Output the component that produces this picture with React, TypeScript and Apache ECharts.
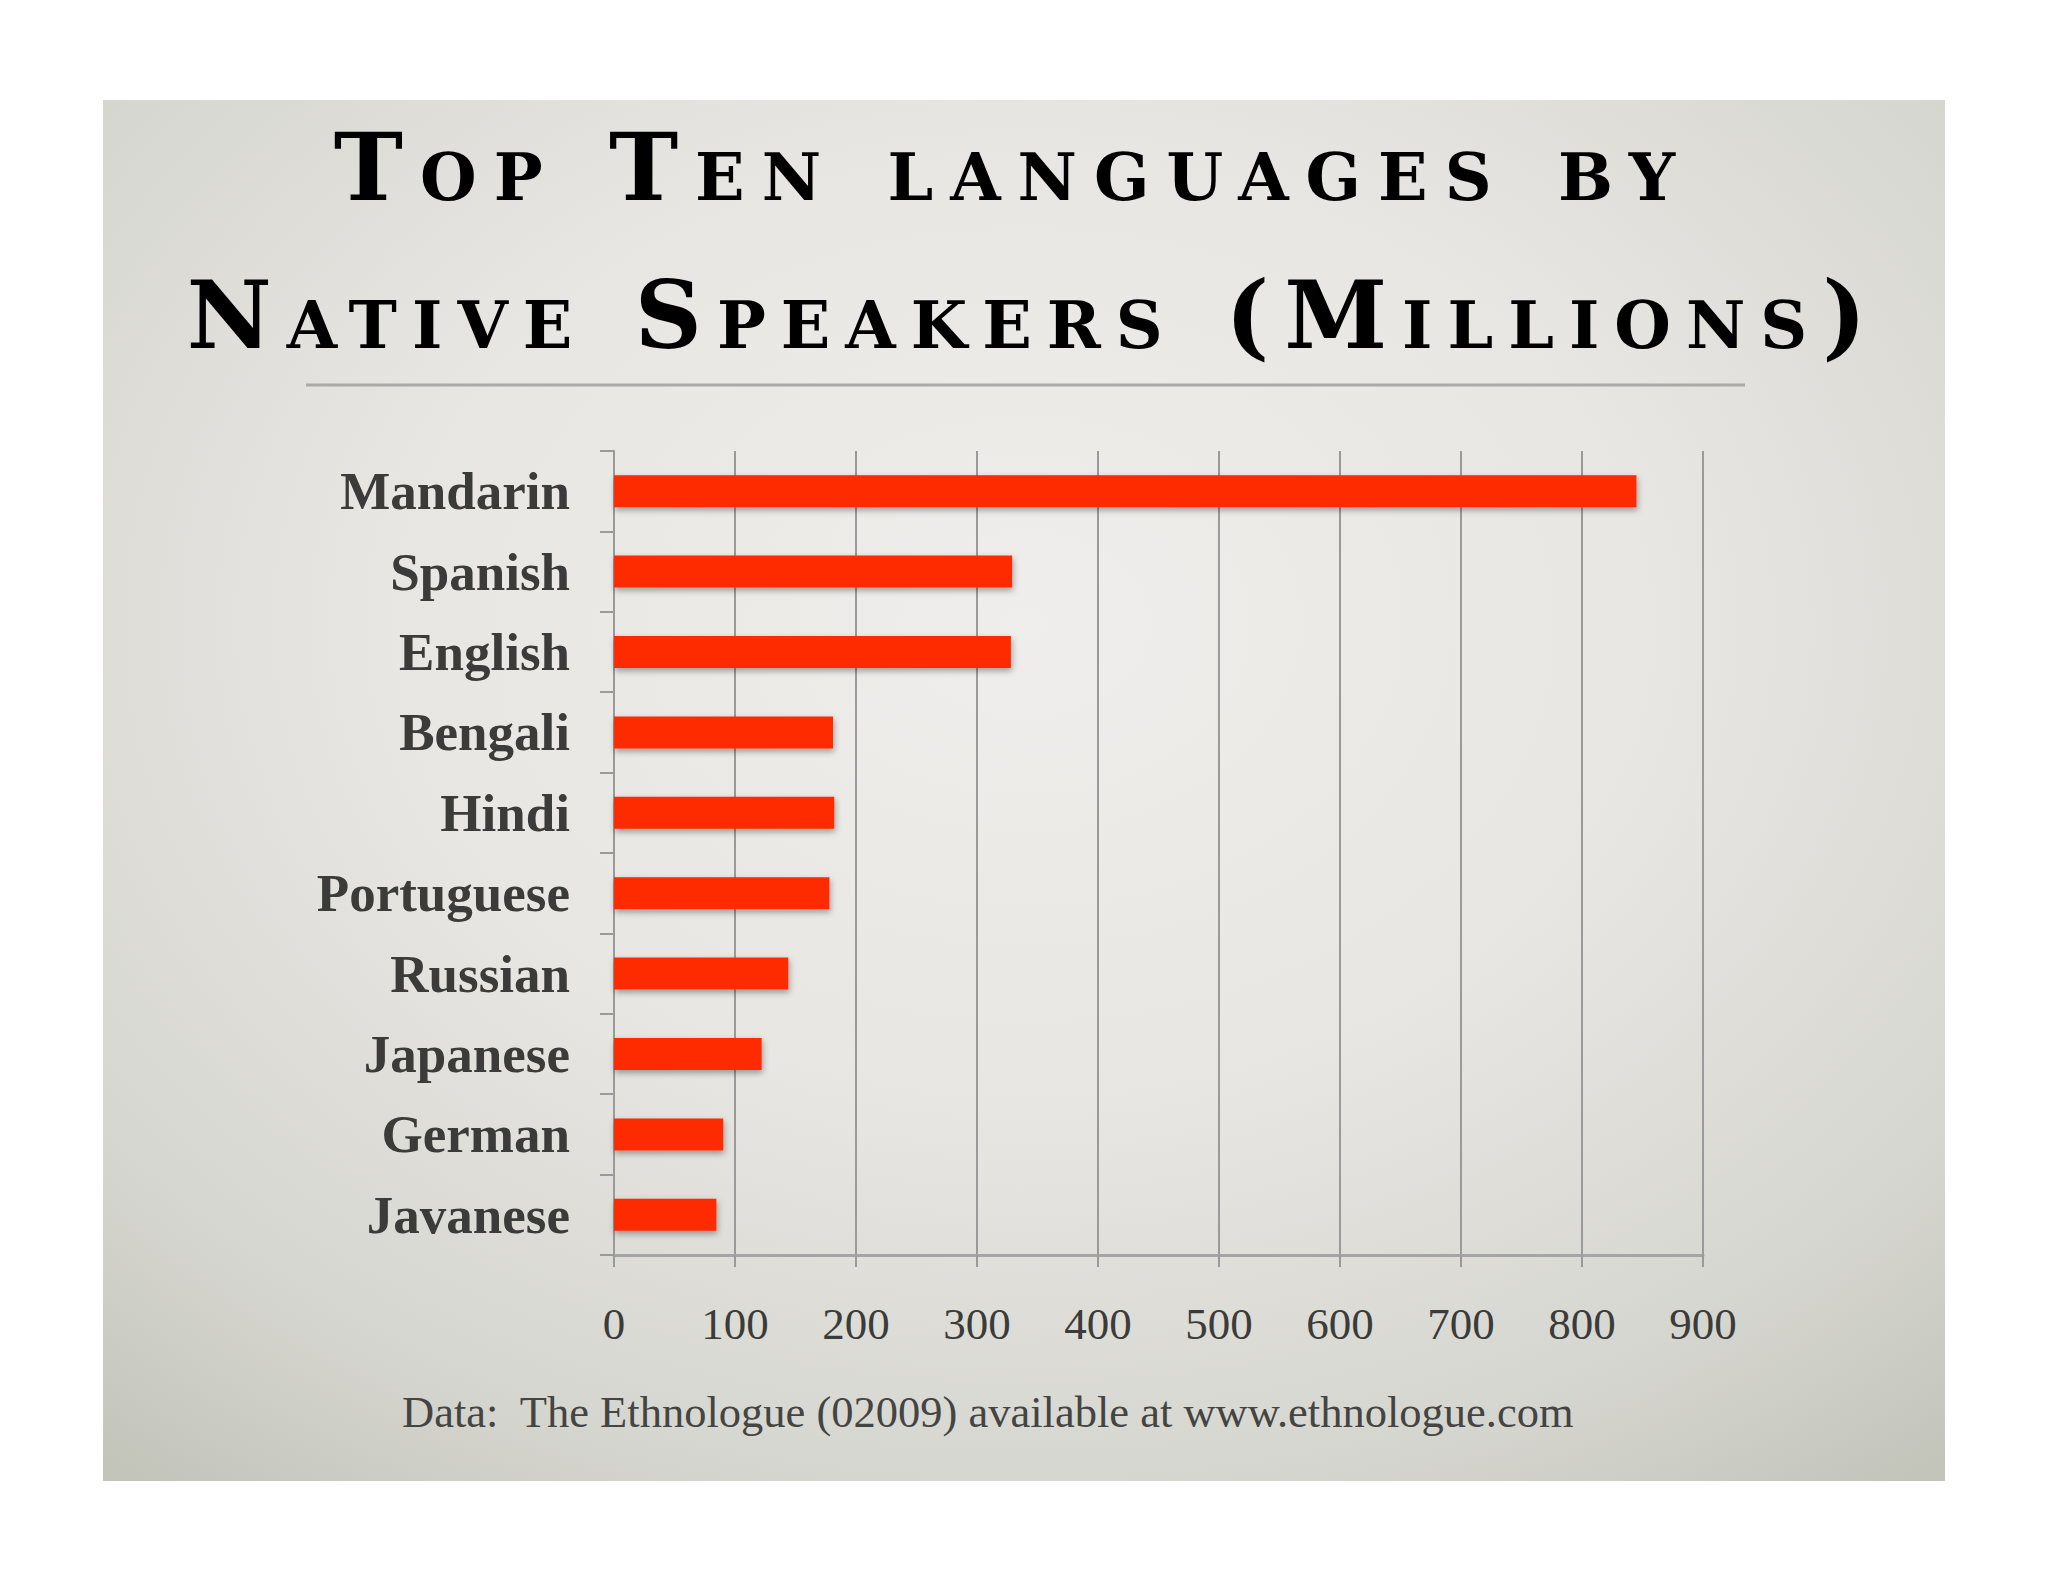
import React, { useEffect, useRef } from "react";
import * as echarts from "echarts";

const categories = [
  "Mandarin",
  "Spanish",
  "English",
  "Bengali",
  "Hindi",
  "Portuguese",
  "Russian",
  "Japanese",
  "German",
  "Javanese",
];
const speakers = [845, 329, 328, 181, 182, 178, 144, 122, 90.3, 84.6];
const axisMin = 0;
const axisMax = 900;
const axisStep = 100;
const titleLines = ["Top Ten languages by", "Native Speakers (Millions)"];
const sourceNote = "Data:  The Ethnologue (02009) available at www.ethnologue.com";

const SERIF = "'Liberation Serif', 'DejaVu Serif', serif";
const TITLE_FONT_1 = "small-caps bold 93px serif; font-family: DejaVu Serif; letter-spacing: 17px";
const TITLE_FONT_2 = "small-caps bold 93px serif; font-family: DejaVu Serif; letter-spacing: 15px";
const GRID_COLOR = "#9a9a9a";
const TEXT_COLOR = "#3b3b39";

export default function App() {
  const ref = useRef<HTMLDivElement>(null);

  useEffect(() => {
    if (!ref.current) return;
    const chart = echarts.init(ref.current, undefined, { renderer: "svg" });
    const option = {
      animation: false,
      backgroundColor: "#ffffff",
      title: [
        {
          text: sourceNote,
          left: 402,
          top: 1389,
          padding: 0,
          textStyle: {
            fontFamily: SERIF,
            fontWeight: "normal",
            fontSize: 44.5,
            color: "#444442",
          },
        },
      ],
      graphic: [
        {
          type: "rect",
          z: -100,
          silent: true,
          shape: { x: 103, y: 100, width: 1842, height: 1381 },
          style: {
            fill: new echarts.graphic.RadialGradient(0.5, 0.38, 0.78, [
              { offset: 0, color: "#efeeec" },
              { offset: 0.45, color: "#e7e6e2" },
              { offset: 0.8, color: "#d6d6d0" },
              { offset: 1, color: "#c3c5bb" },
            ]),
          },
        },
        {
          type: "line",
          z: 5,
          silent: true,
          shape: { x1: 306, y1: 385, x2: 1745, y2: 385 },
          style: { stroke: "#aaaaaa", lineWidth: 3 },
        },
        {
          type: "text",
          z: 10,
          silent: true,
          x: 1013,
          y: 167,
          style: {
            text: titleLines[0],
            font: TITLE_FONT_1,
            fill: "#000000",
            align: "center",
            verticalAlign: "middle",
          },
        },
        {
          type: "text",
          z: 10,
          silent: true,
          x: 1034,
          y: 315,
          style: {
            text: titleLines[1],
            font: TITLE_FONT_2,
            fill: "#000000",
            align: "center",
            verticalAlign: "middle",
          },
        },
      ],
      grid: {
        left: 614,
        right: 345,
        top: 451,
        bottom: 327,
        containLabel: false,
      },
      xAxis: {
        type: "value",
        min: axisMin,
        max: axisMax,
        interval: axisStep,
        axisLine: { show: true, lineStyle: { color: "#a5a5a5", width: 3 } },
        axisTick: { show: true, length: 12, lineStyle: { color: GRID_COLOR, width: 2 } },
        splitLine: { show: true, lineStyle: { color: GRID_COLOR, width: 2 } },
        axisLabel: {
          fontFamily: SERIF,
          fontSize: 45,
          color: TEXT_COLOR,
          margin: 46,
        },
      },
      yAxis: {
        type: "category",
        data: categories,
        inverse: true,
        axisLine: { show: true, lineStyle: { color: GRID_COLOR, width: 2 } },
        axisTick: { show: true, length: 14, lineStyle: { color: GRID_COLOR, width: 2 } },
        splitLine: { show: false },
        axisLabel: {
          fontFamily: SERIF,
          fontWeight: "bold",
          fontSize: 53,
          color: TEXT_COLOR,
          margin: 44,
        },
      },
      series: [
        {
          type: "bar",
          data: speakers,
          barWidth: 32,
          itemStyle: {
            color: "#fe2a00",
            shadowColor: "rgba(0,0,0,0.35)",
            shadowBlur: 6,
            shadowOffsetX: 1,
            shadowOffsetY: 3,
          },
        },
      ],
    };
    chart.setOption(option as any);
    return () => chart.dispose();
  }, []);

  return (
    <div
      ref={ref}
      style={{
        position: "absolute",
        left: 0,
        top: 0,
        width: 2048,
        height: 1582,
        background: "#ffffff",
      }}
    />
  );
}
